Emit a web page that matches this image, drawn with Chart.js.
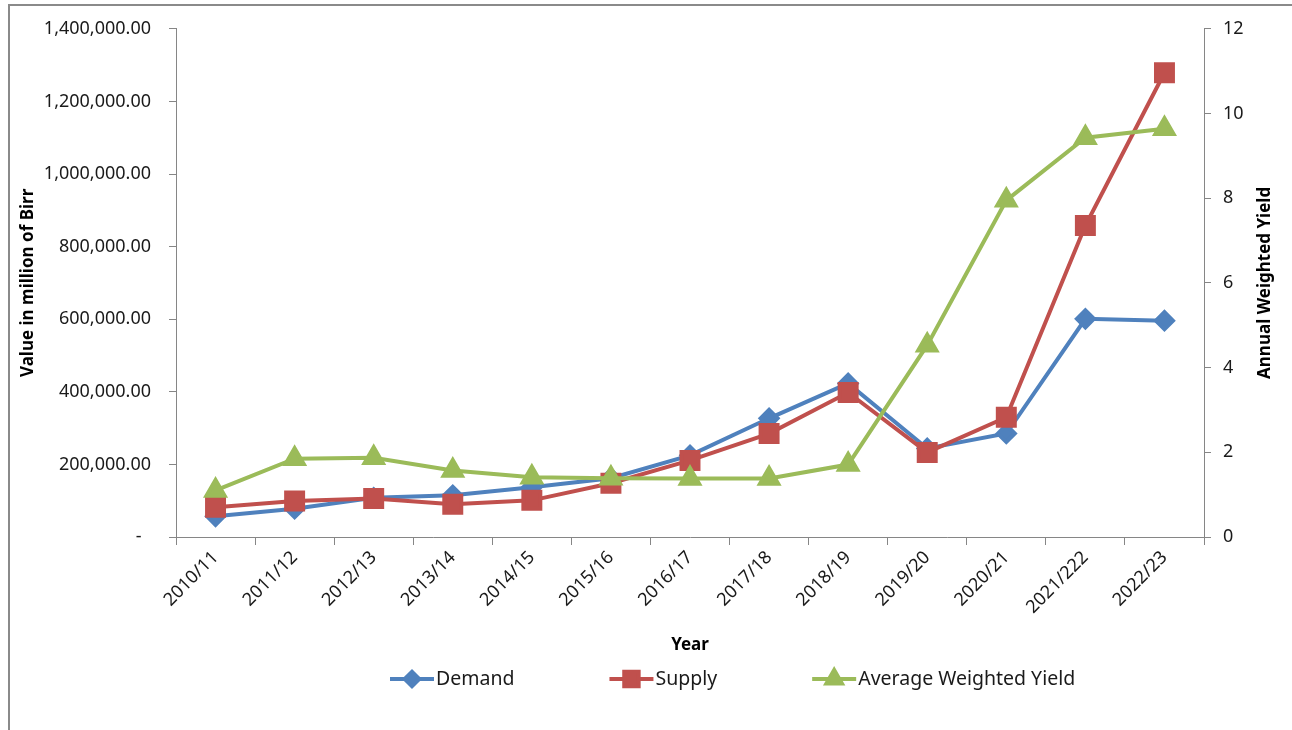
<!DOCTYPE html>
<html>
<head>
<meta charset="utf-8">
<script src="https://cdn.jsdelivr.net/npm/chart.js@4.4.0/dist/chart.umd.min.js"></script>
<style>
  html, body { margin: 0; padding: 0; background: #fff; }
  #wrap { position: relative; width: 1292px; height: 730px; overflow: hidden; }
  #frame { position: absolute; left: 8px; top: 4px; width: 2000px; height: 2000px;
           border-left: 2px solid #8a8a8a; border-top: 2px solid #8a8a8a; pointer-events: none; }
  canvas { position: absolute; left: 0; top: 0; }
</style>
</head>
<body>
<div id="wrap">
  <canvas id="chart" width="1292" height="730"></canvas>
  <div id="frame"></div>
</div>
<script>
const years = ['2010/11', '2011/12', '2012/13', '2013/14', '2014/15', '2015/16', '2016/17',
               '2017/18', '2018/19', '2019/20', '2020/21', '2021/222', '2022/23'];
// million Birr
const demand = [57000, 78000, 108000, 115000, 137000, 162000, 225000, 327000, 423000, 244000, 285000, 601000, 596000];
const supply = [82000, 99000, 106000, 90000, 101000, 148000, 211000, 285000, 398000, 233000, 330000, 858000, 1279000];
// percent
const avgYield = [1.1, 1.85, 1.87, 1.57, 1.41, 1.39, 1.38, 1.38, 1.71, 4.53, 7.95, 9.43, 9.64];

const BLUE = '#4f81bd';
const RED = '#c0504d';
const GREEN = '#9bbb59';
const AXIS = '#868686';
const FONT = '"Noto Sans", "Open Sans", sans-serif';

function fmtBirr(v) {
    if (v === 0) return '-  ';
    return v.toLocaleString('en-US', { minimumFractionDigits: 2, maximumFractionDigits: 2 });
}

// right-hand title, reading bottom to top like the left one
const rightTitle = {
    id: 'rightTitle',
    afterDraw(chart) {
        const { ctx, chartArea } = chart;
        ctx.save();
        ctx.font = 'bold 17px ' + FONT;
        ctx.fillStyle = '#000';
        ctx.textAlign = 'center';
        ctx.textBaseline = 'middle';
        ctx.translate(chart.scales.y1.right - 27, (chartArea.top + chartArea.bottom) / 2);
        ctx.rotate(-Math.PI / 2);
        ctx.fillText('Annual Weighted Yield', 0, 0);
        ctx.restore();
    }
};

// legend with a short line through each marker
const lineLegend = {
    id: 'lineLegend',
    afterDraw(chart) {
        const { ctx } = chart;
        const y = 679;
        let x = 390;
        ctx.save();
        ctx.font = '19.5px ' + FONT;
        ctx.textBaseline = 'middle';
        chart.data.datasets.forEach(ds => {
            ctx.strokeStyle = ds.borderColor;
            ctx.lineWidth = 4;
            ctx.beginPath();
            ctx.moveTo(x, y);
            ctx.lineTo(x + 44, y);
            ctx.stroke();
            ctx.fillStyle = ds.pointBackgroundColor;
            ctx.strokeStyle = ds.pointBorderColor;
            Chart.helpers.drawPoint(ctx, { pointStyle: ds.pointStyle, radius: ds.pointRadius * 0.85, borderWidth: 1, rotation: 0 }, x + 22, y);
            ctx.fillStyle = '#1a1a1a';
            ctx.fillText(ds.label, x + 46, y);
            x += 46 + ctx.measureText(ds.label).width + 95;
        });
        ctx.restore();
    }
};

new Chart(document.getElementById('chart'), {
    type: 'line',
    data: {
        labels: years,
        datasets: [
            {
                label: 'Demand',
                data: demand,
                yAxisID: 'y',
                borderColor: BLUE,
                backgroundColor: BLUE,
                pointBackgroundColor: BLUE,
                pointBorderColor: BLUE,
                borderWidth: 4,
                pointStyle: 'rectRot',
                pointRadius: 8.5,
                order: 3
            },
            {
                label: 'Supply',
                data: supply,
                yAxisID: 'y',
                borderColor: RED,
                backgroundColor: RED,
                pointBackgroundColor: RED,
                pointBorderColor: RED,
                borderWidth: 4,
                pointStyle: 'rect',
                pointRadius: 12,
                order: 2
            },
            {
                label: 'Average Weighted Yield',
                data: avgYield,
                yAxisID: 'y1',
                borderColor: GREEN,
                backgroundColor: GREEN,
                pointBackgroundColor: GREEN,
                pointBorderColor: GREEN,
                borderWidth: 4,
                pointStyle: 'triangle',
                pointRadius: 10.5,
                order: 1
            }
        ]
    },
    options: {
        responsive: false,
        animation: false,
        layout: { padding: { left: 12, top: 27, right: 0, bottom: 75 } },
        plugins: {
            legend: { display: false },
            tooltip: { enabled: false }
        },
        elements: { line: { tension: 0 } },
        scales: {
            x: {
                offset: true,
                grid: { offset: true, drawOnChartArea: false, tickLength: 8, color: AXIS },
                border: { color: AXIS },
                ticks: {
                    autoSkip: false, minRotation: 45, maxRotation: 45, padding: 2,
                    color: '#1a1a1a', font: { family: FONT, size: 18 }
                },
                title: {
                    display: true, text: 'Year', color: '#000',
                    padding: { top: 0, bottom: 0 },
                    font: { family: FONT, size: 17, weight: 'bold' }
                },
                afterFit(scale) { scale.height = 118; }
            },
            y: {
                position: 'left',
                min: 0, max: 1400000,
                ticks: {
                    stepSize: 200000, padding: 18, callback: fmtBirr,
                    color: '#1a1a1a', font: { family: FONT, size: 18 }
                },
                grid: { drawOnChartArea: false, tickLength: 7, color: AXIS },
                border: { color: AXIS },
                title: {
                    display: true, text: 'Value in million of Birr', color: '#000',
                    padding: { top: 6, bottom: 0 },
                    font: { family: FONT, size: 17, weight: 'bold' }
                },
                afterFit(scale) { scale.width = 164; }
            },
            y1: {
                position: 'right',
                min: 0, max: 12,
                ticks: {
                    stepSize: 2, padding: 12,
                    color: '#1a1a1a', font: { family: FONT, size: 18 }
                },
                grid: { drawOnChartArea: false, tickLength: 7, color: AXIS },
                border: { color: AXIS },
                afterFit(scale) { scale.width = 88; }
            }
        }
    },
    plugins: [rightTitle, lineLegend]
});
</script>
</body>
</html>
